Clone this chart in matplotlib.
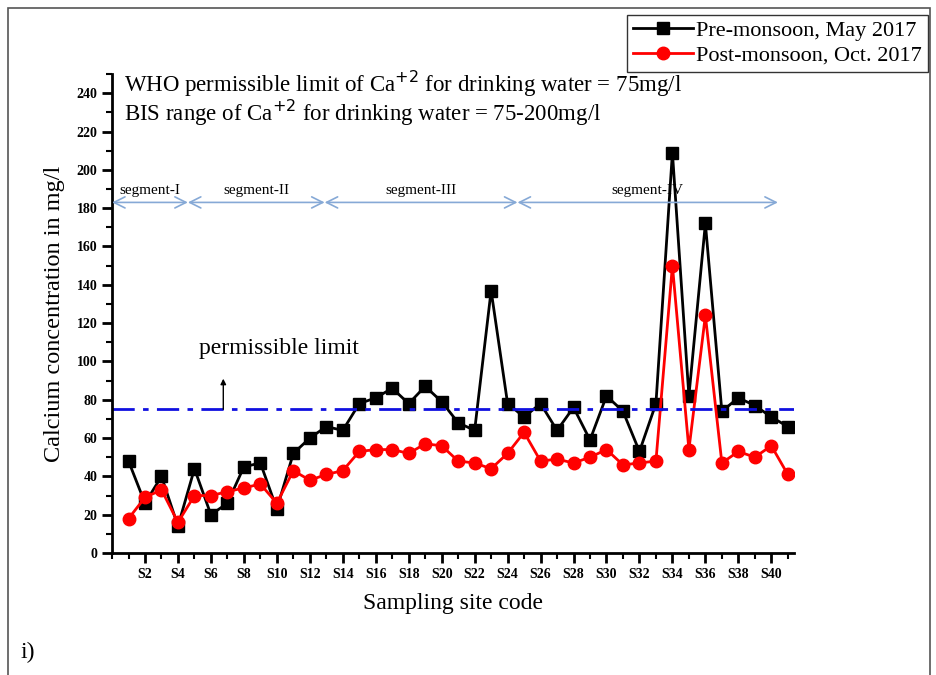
import matplotlib.pyplot as plt
from matplotlib.patches import Rectangle
from matplotlib.ticker import MultipleLocator

plt.rcParams['font.family'] = ['Liberation Serif', 'DejaVu Serif']

# site index 1..41 (S1..S41)
sites = list(range(1, 42))
pre_monsoon = [48, 26, 40, 14, 44, 20, 26, 45, 47, 23,
               52, 60, 66, 64, 78, 81, 86, 78, 87, 79,
               68, 64, 137, 78, 71, 78, 64, 76, 59, 82,
               74, 53, 78, 209, 82, 172, 74, 81, 77, 71, 66]
post_monsoon = [18, 29, 33, 16, 30, 30, 32, 34, 36, 26,
                43, 38, 41, 43, 53, 54, 54, 52, 57, 56,
                48, 47, 44, 52, 63, 48, 49, 47, 50, 54,
                46, 47, 48, 150, 54, 124, 47, 53, 50, 56, 41]
tick_sites = list(range(2, 41, 2))
tick_labels = [f'S{i}' for i in tick_sites]
who_limit = 75
segments = [('segment-I', 0, 4.6), ('segment-II', 4.6, 12.9),
            ('segment-III', 12.9, 24.6), ('segment-IV', 24.6, 40.4)]

fig = plt.figure(figsize=(9.36, 6.75), dpi=100)
fig.patches.append(Rectangle((0.009, -0.01), 0.985, 0.998, transform=fig.transFigure,
                             fill=False, edgecolor='#555555', linewidth=1.2))
ax = fig.add_axes([0.1197, 0.1807, 0.729, 0.7096])

ax.plot(sites, pre_monsoon, '-s', color='black', lw=2, ms=8.5, label='Pre-monsoon, May 2017')
ax.plot(sites, post_monsoon, '-o', color='red', lw=2, ms=9, label='Post-monsoon, Oct. 2017')
ax.axhline(who_limit, color='#1010e0', ls=(0, (8, 3, 2, 3)), lw=2)

ax.set_xlim(0, 41.4)
ax.set_ylim(0, 250)
ax.set_xticks(tick_sites)
ax.set_xticklabels(tick_labels)
ax.xaxis.set_minor_locator(MultipleLocator(1))
ax.yaxis.set_minor_locator(MultipleLocator(10))
ax.set_yticks(range(0, 241, 20))
ax.tick_params(which='major', direction='out', length=7, width=2, labelsize=10)
ax.tick_params(which='minor', direction='out', length=4, width=1.5)
for lab in ax.get_xticklabels() + ax.get_yticklabels():
    lab.set_fontweight('bold')
for s in ['top', 'right']:
    ax.spines[s].set_visible(False)
for s in ['left', 'bottom']:
    ax.spines[s].set_linewidth(2)

ax.set_xlabel('Sampling site code', fontsize=17, labelpad=9)
ax.set_ylabel('Calcium concentration in mg/l', fontsize=17.5, labelpad=8)

# segment arrows
for name, x0, x1 in segments:
    ax.annotate('', xy=(x1, 183), xytext=(x0, 183),
                arrowprops=dict(arrowstyle='<->', color='#86a9d6', lw=1.2,
                                mutation_scale=20, shrinkA=0, shrinkB=0))
    ax.text((x0 + x1) / 2, 186, name, ha='center', va='bottom', fontsize=11)

ax.text(0.75, 245, 'WHO permissible limit of Ca$^{+2}$ for drinking water = 75mg/l',
        fontsize=16.5, va='center')
ax.text(0.75, 229.5, 'BIS range of Ca$^{+2}$ for drinking water = 75-200mg/l',
        fontsize=16.5, va='center')
ax.text(5.3, 107, 'permissible limit', fontsize=17, va='center')
ax.annotate('', xy=(6.75, 91), xytext=(6.75, 75),
            arrowprops=dict(arrowstyle='-|>', color='black', lw=1, mutation_scale=8,
                            shrinkA=0, shrinkB=0))

fig.legend(loc='upper right', bbox_to_anchor=(0.991, 0.978), fontsize=16,
           frameon=True, fancybox=False, edgecolor='black', handlelength=2.7,
           handletextpad=0.15, borderpad=0.25, labelspacing=0.2, borderaxespad=0)
fig.text(0.022, 0.025, 'i)', fontsize=17)

fig.savefig('out.png', dpi=100)
